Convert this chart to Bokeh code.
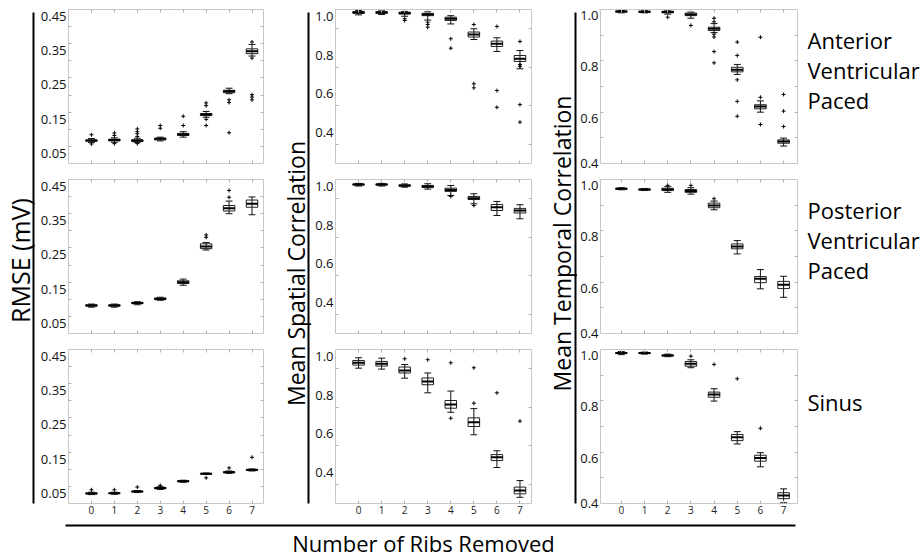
import numpy as np
from bokeh.plotting import figure
from bokeh.models import (Range1d, FixedTicker, LinearAxis, PrintfTickFormatter,
                          CustomJSTickFormatter)
from bokeh.layouts import row, column
from bokeh.embed import file_html
from bokeh.resources import INLINE
from bokeh.core.properties import value

# ---------------- data ----------------
ribs_removed = [0, 1, 2, 3, 4, 5, 6, 7]
rows_names = ["Anterior\nVentricular\nPaced", "Posterior\nVentricular\nPaced", "Sinus"]
col_titles = ["RMSE (mV)", "Mean Spatial Correlation", "Mean Temporal Correlation"]
x_title = "Number of Ribs Removed"

rmse_ticks = [0.05, 0.15, 0.25, 0.35, 0.45]
corr_ticks = [0.4, 0.6, 0.8, 1.0]

# Anterior ventricular paced - RMSE
avp_rmse_lo = [.061, .062, .061, .066, .077, .135, .204, .314]
avp_rmse_q1 = [.065, .066, .064, .069, .082, .140, .207, .321]
avp_rmse_med = [.067, .069, .067, .072, .085, .143, .211, .328]
avp_rmse_q3 = [.069, .071, .069, .074, .088, .146, .214, .335]
avp_rmse_hi = [.073, .075, .074, .077, .093, .152, .220, .348]
avp_rmse_out = [[.084, .057], [.089, .082, .058], [.101, .093, .087, .079, .058], [.111, .103],
                [.138, .111], [.177, .169, .129, .111], [.186, .178, .090], [.355, .308, .201, .194, .186]]
# Posterior ventricular paced - RMSE
pvp_rmse_lo = [.077, .077, .084, .097, .141, .244, .350, .347]
pvp_rmse_q1 = [.080, .080, .087, .099, .146, .248, .358, .369]
pvp_rmse_med = [.082, .082, .089, .101, .150, .254, .366, .379]
pvp_rmse_q3 = [.084, .084, .091, .104, .154, .262, .374, .390]
pvp_rmse_hi = [.086, .086, .093, .106, .159, .266, .387, .399]
pvp_rmse_out = [[], [], [], [], [], [.288, .281], [.418, .398], []]
# Sinus - RMSE
sin_rmse_lo = [.026, .027, .032, .041, .062, .085, .088, .095]
sin_rmse_q1 = [.028, .029, .034, .043, .064, .086, .090, .097]
sin_rmse_med = [.029, .030, .035, .045, .065, .087, .091, .098]
sin_rmse_q3 = [.031, .031, .036, .047, .067, .088, .093, .100]
sin_rmse_hi = [.033, .033, .038, .049, .068, .089, .095, .101]
sin_rmse_out = [[.040], [.040], [.048], [.053], [], [.075], [.104], [.135]]

# Spatial correlation
avp_spat_lo = [.972, .974, .965, .945, .925, .844, .782, .692]
avp_spat_q1 = [.980, .980, .977, .968, .943, .857, .808, .730]
avp_spat_med = [.985, .985, .981, .974, .952, .870, .822, .744]
avp_spat_q3 = [.990, .989, .986, .980, .960, .883, .836, .761]
avp_spat_hi = [.995, .993, .990, .988, .968, .900, .853, .787]
avp_spat_out = [[], [], [.952, .943], [.934, .922, .908], [.848, .799], [.922, .614, .593],
                [.912, .579, .492], [.834, .714, .704, .506, .415]]
pvp_spat_lo = [.966, .966, .960, .950, .917, .874, .813, .796]
pvp_spat_q1 = [.971, .971, .965, .958, .938, .896, .839, .826]
pvp_spat_med = [.974, .974, .969, .964, .946, .903, .856, .839]
pvp_spat_q3 = [.977, .977, .972, .969, .955, .912, .870, .850]
pvp_spat_hi = [.980, .980, .977, .978, .969, .926, .886, .869]
pvp_spat_out = [[], [], [], [], [.912], [.865], [], []]
sin_spat_lo = [.903, .898, .851, .775, .674, .557, .387, .232]
sin_spat_q1 = [.919, .914, .878, .817, .695, .600, .423, .250]
sin_spat_med = [.931, .926, .891, .834, .714, .622, .440, .267]
sin_spat_q3 = [.943, .938, .909, .852, .735, .645, .454, .285]
sin_spat_hi = [.957, .955, .922, .878, .784, .693, .474, .319]
sin_spat_out = [[], [], [.952], [.947], [.931, .643], [.905, .721], [.775], [.628]]

# Temporal correlation
avp_temp_lo = [.987, .987, .982, .966, .910, .747, .600, .468]
avp_temp_q1 = [.990, .989, .987, .976, .918, .757, .613, .479]
avp_temp_med = [.992, .991, .990, .981, .925, .765, .622, .486]
avp_temp_q3 = [.994, .993, .993, .986, .931, .775, .629, .492]
avp_temp_hi = [.996, .995, .995, .990, .945, .786, .644, .499]
avp_temp_out = [[], [], [.970], [.938], [.966, .952, .904, .893, .836, .792],
                [.873, .821, .726, .642, .584], [.892, .658, .552], [.669, .604, .544]]
pvp_temp_lo = [.960, .957, .950, .943, .882, .710, .574, .541]
pvp_temp_q1 = [.962, .959, .957, .950, .890, .730, .598, .575]
pvp_temp_med = [.964, .961, .961, .955, .899, .739, .613, .590]
pvp_temp_q3 = [.966, .963, .966, .961, .908, .749, .622, .603]
pvp_temp_hi = [.968, .965, .972, .968, .916, .762, .649, .623]
pvp_temp_out = [[], [], [.977], [.977], [.925], [], [], []]
sin_temp_lo = [.980, .982, .972, .929, .799, .632, .543, .403]
sin_temp_q1 = [.984, .984, .975, .935, .814, .645, .565, .419]
sin_temp_med = [.986, .986, .977, .944, .825, .658, .577, .431]
sin_temp_q3 = [.988, .988, .979, .953, .834, .669, .588, .442]
sin_temp_hi = [.992, .990, .982, .960, .847, .680, .598, .457]
sin_temp_out = [[], [], [], [.974], [.942], [.886], [.693], []]

# ---------------- style / layout ----------------
FONT = "Open Sans"
TICK = "#b0b0b0"
FRAME_H = 154
FRAME_W = 197
XLIM = [(-1.0, 7.5), (-1.0, 7.5), (-0.9, 7.6)]
YLIM = [(0.0, 0.45), (0.2, 1.0), (0.4, 1.0)]
YTICKS = [rmse_ticks, corr_ticks, corr_ticks]
YDEC = [2, 1, 1]
YGRAY = [[0.05, 0.10, 0.15, 0.20, 0.25, 0.30, 0.35, 0.40],
         [0.3, 0.5, 0.7, 0.9],
         [0.5, 0.6, 0.7, 0.8, 0.9]]
LABEL_SHIFT = [7, 7, 6]       # in the original the tick labels hang a few px below their ticks
COL_W = [229, 224, 228]
BL = [29, 22, 23]
BR = [3, 5, 8]
ROW_H = [175, 170, 173]
BT = [9, 4, 4]
BB = [12, 12, 15]
TOP_H = sum(ROW_H)


def gray_axis(p, side, ticks):
    ax = LinearAxis(ticker=FixedTicker(ticks=ticks), formatter=CustomJSTickFormatter(code="return ''"))
    ax.axis_line_color = None
    ax.major_tick_out = 0
    ax.major_tick_in = 3
    ax.minor_tick_out = 0
    ax.minor_tick_in = 0
    ax.major_tick_line_color = TICK
    ax.major_label_standoff = 0
    p.add_layout(ax, side)
    return ax


def panel(c, r, lo, q1, med, q3, hi, out):
    ymin, ymax = YLIM[c]
    p = figure(width=COL_W[c], height=ROW_H[r],
               x_range=Range1d(*XLIM[c]), y_range=Range1d(ymin, ymax),
               x_axis_location=None, y_axis_location=None, toolbar_location=None,
               output_backend="svg", title=None,
               min_border_left=BL[c], min_border_right=BR[c],
               min_border_top=BT[r], min_border_bottom=BB[r])
    p.outline_line_color = "#c8c8c8"
    p.grid.visible = False
    x = np.array(ribs_removed, dtype=float)
    lo, q1, med, q3, hi = map(np.array, (lo, q1, med, q3, hi))
    p.segment(x, lo, x, hi, line_color="#111111", line_width=1)
    p.segment(x - 0.15, hi, x + 0.15, hi, line_color="#111111", line_width=1)
    p.segment(x - 0.15, lo, x + 0.15, lo, line_color="#111111", line_width=1)
    p.quad(left=x - 0.25, right=x + 0.25, bottom=q1, top=q3,
           fill_alpha=0, line_color="#222222", line_width=1)
    p.segment(x - 0.25, med, x + 0.25, med, line_color="black", line_width=2)
    ox = [xi for xi, o in zip(ribs_removed, out) for _ in o]
    oy = [v for o in out for v in o]
    p.scatter(ox, oy, marker="cross", size=4, line_color="black", line_width=1)

    # left axis: gray inner ticks (minor) + labels hung LABEL_SHIFT px below the tick values
    d = LABEL_SHIFT[c] * (ymax - ymin) / FRAME_H
    label_pos = [max(t - d, ymin) for t in YTICKS[c]]
    left = LinearAxis(ticker=FixedTicker(ticks=label_pos, minor_ticks=YGRAY[c]),
                      formatter=CustomJSTickFormatter(args=dict(d=d, n=YDEC[c]),
                                                      code="return (tick + d).toFixed(n)"))
    left.axis_line_color = None
    left.major_tick_in = 0
    left.major_tick_out = 0
    left.minor_tick_in = 3
    left.minor_tick_out = 0
    left.minor_tick_line_color = TICK
    left.major_label_standoff = 2
    left.major_label_text_font = FONT
    left.major_label_text_font_size = "13px"
    left.major_label_text_color = "#111111"
    p.add_layout(left, "left")

    gray_axis(p, "right", YGRAY[c])
    gray_axis(p, "above", ribs_removed)
    bottom = gray_axis(p, "below", ribs_removed)
    if r == 2:
        bottom.formatter = PrintfTickFormatter(format="%d")
        bottom.major_label_standoff = 2
        bottom.major_label_text_font = FONT
        bottom.major_label_text_font_size = "10px"
        bottom.major_label_text_color = "#222222"
    return p


def deco(w, h):
    p = figure(width=w, height=h, x_range=Range1d(0, w), y_range=Range1d(0, h),
               x_axis_location=None, y_axis_location=None, toolbar_location=None,
               output_backend="svg", title=None, min_border=0)
    p.outline_line_color = None
    p.grid.visible = False
    return p


data = [
    [(avp_rmse_lo, avp_rmse_q1, avp_rmse_med, avp_rmse_q3, avp_rmse_hi, avp_rmse_out),
     (avp_spat_lo, avp_spat_q1, avp_spat_med, avp_spat_q3, avp_spat_hi, avp_spat_out),
     (avp_temp_lo, avp_temp_q1, avp_temp_med, avp_temp_q3, avp_temp_hi, avp_temp_out)],
    [(pvp_rmse_lo, pvp_rmse_q1, pvp_rmse_med, pvp_rmse_q3, pvp_rmse_hi, pvp_rmse_out),
     (pvp_spat_lo, pvp_spat_q1, pvp_spat_med, pvp_spat_q3, pvp_spat_hi, pvp_spat_out),
     (pvp_temp_lo, pvp_temp_q1, pvp_temp_med, pvp_temp_q3, pvp_temp_hi, pvp_temp_out)],
    [(sin_rmse_lo, sin_rmse_q1, sin_rmse_med, sin_rmse_q3, sin_rmse_hi, sin_rmse_out),
     (sin_spat_lo, sin_spat_q1, sin_spat_med, sin_spat_q3, sin_spat_hi, sin_spat_out),
     (sin_temp_lo, sin_temp_q1, sin_temp_med, sin_temp_q3, sin_temp_hi, sin_temp_out)],
]

cols = []
for c in range(3):
    cols.append(column([panel(c, r, *data[r][c]) for r in range(3)], spacing=0))

# column titles with the black side lines
TW = [37, 46, 41]
T_CX = [19, 29, 25]
T_CY = [260, 273, 243]
T_SIZE = ["25px", "23px", "23px"]
T_LX = [33, 42, 39]
tfigs = []
for i in range(3):
    t = deco(TW[i], TOP_H)
    t.text(x=[T_CX[i]], y=[TOP_H - T_CY[i]], text=[col_titles[i]], angle=np.pi / 2,
           text_font=value(FONT), text_font_size=T_SIZE[i], text_align="center",
           text_baseline="middle", text_color="black")
    t.segment(x0=[T_LX[i]], y0=[TOP_H - 12], x1=[T_LX[i]], y1=[TOP_H - 503],
              line_color="black", line_width=2)
    tfigs.append(t)

# row labels on the right
rl = deco(117, TOP_H)
rl_lines = []
rl_mid = [[39, 69, 99], [209, 239, 269], [401]]
for name, mids in zip(rows_names, rl_mid):
    for part, m in zip(name.split("\n"), mids):
        rl_lines.append((part, m))
rl.text(x=[2] * len(rl_lines), y=[TOP_H - m for _, m in rl_lines], text=[s for s, _ in rl_lines],
        text_font=value(FONT), text_font_size="22px", text_align="left",
        text_baseline="middle", text_color="black")

top = row([tfigs[0], cols[0], tfigs[1], cols[1], tfigs[2], cols[2], rl], spacing=0)

bottom = deco(922, 38)
bottom.segment(x0=[65], y0=[31], x1=[795], y1=[31], line_color="black", line_width=2)
bottom.text(x=[423], y=[14], text=[x_title], text_font=value(FONT), text_font_size="22px",
            text_align="center", text_baseline="middle", text_color="black")

page = column([top, bottom], spacing=0)
open("out.html", "w").write(file_html(page, INLINE))
